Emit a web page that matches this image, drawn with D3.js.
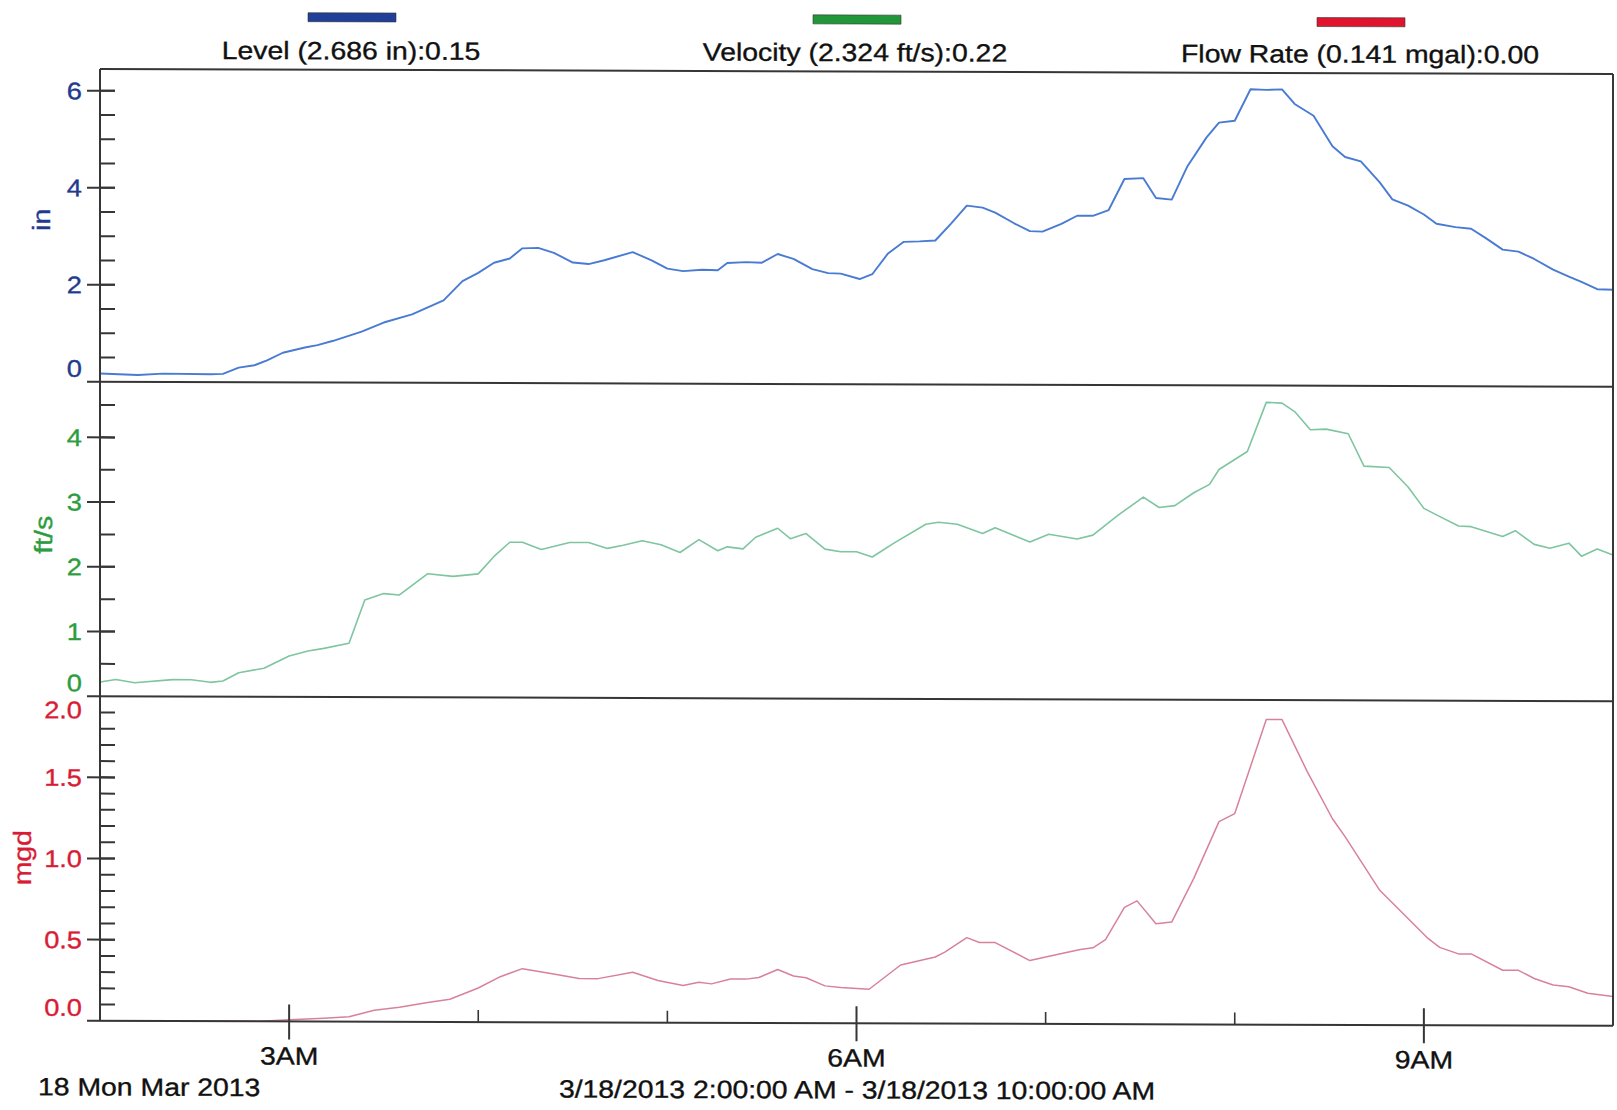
<!DOCTYPE html>
<html>
<head>
<meta charset="utf-8">
<script src="https://cdn.jsdelivr.net/npm/d3@7"></script>
<style>
  html, body { margin: 0; padding: 0; background: #ffffff; }
  svg { display: block; }
  text { font-family: "Liberation Sans", Arial, sans-serif; }
</style>
</head>
<body>
<svg id="chart" width="1617" height="1110"></svg>
<script>
// ---------------- DATA (hours after midnight, 3/18/2013) ----------------
const levelHours = [2.00,2.20,2.33,2.59,2.65,2.74,2.82,2.88,2.97,3.08,3.15,3.24,3.38,3.50,3.65,3.82,3.91,4.00,4.09,4.17,4.24,4.32,4.40,4.50,4.58,4.67,4.82,4.91,5.00,5.08,5.18,5.26,5.32,5.41,5.50,5.59,5.67,5.77,5.85,5.91,6.01,6.08,6.17,6.25,6.34,6.42,6.50,6.59,6.67,6.74,6.84,6.91,6.99,7.08,7.17,7.25,7.33,7.42,7.51,7.59,7.66,7.75,7.85,7.92,8.00,8.09,8.17,8.25,8.32,8.41,8.51,8.58,8.67,8.76,8.84,8.92,9.00,9.07,9.16,9.25,9.33,9.42,9.50,9.59,9.68,9.76,9.84,9.92,10.00];
const levelValues = [0.17,0.14,0.17,0.16,0.17,0.30,0.35,0.45,0.61,0.72,0.77,0.86,1.05,1.24,1.41,1.70,2.10,2.27,2.48,2.57,2.78,2.79,2.69,2.49,2.46,2.54,2.71,2.54,2.37,2.32,2.35,2.34,2.49,2.51,2.50,2.68,2.58,2.37,2.29,2.28,2.17,2.27,2.70,2.94,2.95,2.97,3.32,3.69,3.65,3.55,3.33,3.17,3.16,3.32,3.49,3.49,3.61,4.25,4.27,3.86,3.83,4.52,5.11,5.42,5.46,6.11,6.10,6.11,5.81,5.57,4.94,4.72,4.63,4.20,3.85,3.72,3.54,3.35,3.28,3.25,3.04,2.82,2.78,2.63,2.41,2.27,2.16,2.01,2.00];

const velocityHours = [2.00,2.08,2.18,2.38,2.49,2.59,2.65,2.74,2.86,3.00,3.10,3.19,3.31,3.40,3.50,3.59,3.73,3.87,4.00,4.08,4.17,4.23,4.33,4.49,4.59,4.68,4.77,4.87,4.97,5.06,5.17,5.26,5.31,5.40,5.47,5.58,5.65,5.74,5.83,5.92,6.00,6.08,6.20,6.36,6.43,6.54,6.67,6.74,6.82,6.91,7.02,7.16,7.25,7.38,7.51,7.60,7.68,7.78,7.86,7.92,8.06,8.17,8.25,8.31,8.40,8.48,8.60,8.69,8.81,8.91,9.00,9.07,9.18,9.25,9.42,9.49,9.59,9.67,9.76,9.84,9.92,10.00];
const velocityValues = [0.22,0.26,0.21,0.26,0.26,0.22,0.24,0.37,0.44,0.63,0.71,0.75,0.83,1.50,1.60,1.58,1.91,1.87,1.91,2.18,2.40,2.40,2.29,2.40,2.40,2.31,2.36,2.43,2.37,2.25,2.45,2.28,2.34,2.31,2.49,2.63,2.47,2.55,2.31,2.27,2.27,2.19,2.41,2.70,2.73,2.70,2.56,2.65,2.55,2.43,2.55,2.48,2.54,2.85,3.13,2.97,3.00,3.20,3.33,3.56,3.84,4.60,4.59,4.46,4.18,4.19,4.12,3.62,3.60,3.30,2.97,2.87,2.70,2.69,2.54,2.63,2.42,2.36,2.44,2.24,2.35,2.26];

const flowHours = [2.00,2.50,2.85,3.00,3.18,3.31,3.45,3.59,3.74,3.85,4.00,4.12,4.24,4.38,4.54,4.64,4.82,4.95,5.08,5.17,5.24,5.33,5.41,5.49,5.58,5.67,5.74,5.83,5.92,6.07,6.24,6.41,6.47,6.58,6.65,6.74,6.91,7.06,7.19,7.25,7.31,7.42,7.49,7.59,7.67,7.78,7.91,8.00,8.17,8.25,8.38,8.51,8.58,8.76,9.01,9.09,9.18,9.25,9.41,9.50,9.59,9.68,9.76,9.86,10.00];
const flowValues = [0.00,0.00,0.00,0.01,0.02,0.03,0.07,0.09,0.12,0.14,0.21,0.28,0.33,0.30,0.27,0.27,0.31,0.26,0.23,0.25,0.24,0.27,0.27,0.28,0.33,0.29,0.28,0.23,0.22,0.21,0.36,0.41,0.44,0.53,0.50,0.50,0.39,0.43,0.46,0.47,0.52,0.72,0.76,0.62,0.63,0.90,1.25,1.30,1.88,1.88,1.56,1.27,1.16,0.83,0.54,0.48,0.44,0.44,0.34,0.34,0.29,0.25,0.24,0.20,0.18];

const levelTicks = [0, 2, 4, 6];
const velocityTicks = [0, 1, 2, 3, 4];
const flowTicks = [0, 0.5, 1.0, 1.5, 2.0];
const timeTickHours = [3, 4, 5, 6, 7, 8, 9];
const timeLabels = {3: "3AM", 6: "6AM", 9: "9AM"};

const legendLabels = ["Level (2.686 in):0.15", "Velocity (2.324 ft/s):0.22", "Flow Rate (0.141 mgal):0.00"];
const axisTitles = ["in", "ft/s", "mgd"];
const dateLabel = "18 Mon Mar 2013";
const rangeLabel = "3/18/2013 2:00:00 AM - 3/18/2013 10:00:00 AM";

// ---------------- LAYOUT ----------------
const root = d3.select("#chart");
// the scanned page is slightly skewed (right side ~5px lower)
const SKEW = 0.19;
const svg = root.append("g")
  .attr("transform", `translate(0,${-100 * Math.tan(SKEW * Math.PI / 180)}) skewY(${SKEW})`);

const L = 100, R = 1613;
const TOP = 69, D1 = 381.7, D2 = 696.2, BOT = 1020.8;
const SX = 1.135;            // horizontal stretch of the lettering
const FS = 25, TFS = 24;
const EDGE = 13.5;           // inward shift of the labels that sit on a panel edge
const frameColor = "#363636";

const toDate = h => new Date(2013, 2, 18, 0, Math.round(h * 60));
const x = d3.scaleTime().domain([toDate(2), toDate(10)]).range([L, R]);

const panels = [
  { hours: levelHours, values: levelValues, ticks: levelTicks, top: TOP, bottom: D1, max: 6.45, minorStep: 0.5,
    fmt: d3.format("d"), line: "#4a7bd2", width: 1.9, label: "#1f3a8e", title: axisTitles[0], titleX: 50, titleY: 220,
    legendColor: "#203f98", legendCx: 351, swatch: [308, 12] },
  { hours: velocityHours, values: velocityValues, ticks: velocityTicks, top: D1, bottom: D2, max: 4.86, minorStep: 0.5,
    fmt: d3.format("d"), line: "#7ec5a0", width: 1.6, label: "#2c9c3e", title: axisTitles[1], titleX: 52, titleY: 535,
    legendColor: "#22973a", legendCx: 855, swatch: [813, 12.5] },
  { hours: flowHours, values: flowValues, ticks: flowTicks, top: D2, bottom: BOT, max: 2.0, minorStep: 0.1,
    fmt: d3.format(".1f"), line: "#d8829a", width: 1.5, label: "#d81c36", title: axisTitles[2], titleX: 31, titleY: 858,
    legendColor: "#e0142e", legendCx: 1360, swatch: [1317, 13.5] }
];

function stretchedText(g, x0, y0, s, opts) {
  const col = opts.color || "#111";
  const t = g.append("text")
    .attr("transform", opts.rot
      ? `translate(${x0},${y0}) rotate(-90) scale(${SX},1)`
      : `translate(${x0},${y0}) scale(${SX},1)`)
    .attr("text-anchor", opts.anchor || "start")
    .attr("font-size", opts.size || FS)
    .attr("fill", col)
    .attr("stroke", col)
    .attr("stroke-width", 0.35)
    .text(s);
  if (opts.dy) t.attr("dy", opts.dy);
  return t;
}

const gLines = svg.append("g");
const gAxes = svg.append("g");
const gText = svg.append("g");

panels.forEach((p, i) => {
  const y = d3.scaleLinear().domain([0, p.max]).range([p.bottom, p.top]);

  // data line
  const pts = p.hours.map((h, k) => ({ t: toDate(h), v: p.values[k] }));
  gLines.append("path")
    .datum(pts)
    .attr("fill", "none")
    .attr("stroke", p.line)
    .attr("stroke-width", p.width)
    .attr("stroke-linejoin", "round")
    .attr("d", d3.line().x(d => x(d.t)).y(d => y(d.v)));

  // minor ticks (inside)
  const minor = d3.range(0, p.max + 1e-9, p.minorStep).filter(v => v > 0.001 && v < p.max - 0.02);
  gAxes.selectAll(null).data(minor).join("line")
    .attr("x1", L).attr("x2", L + 15)
    .attr("y1", d => y(d)).attr("y2", d => y(d))
    .attr("stroke", frameColor).attr("stroke-width", 2);
  // major ticks (cross the axis)
  gAxes.selectAll(null).data(p.ticks.filter(v => v > 0 && v < p.max - 0.02)).join("line")
    .attr("x1", L - 13).attr("x2", L + 15)
    .attr("y1", d => y(d)).attr("y2", d => y(d))
    .attr("stroke", frameColor).attr("stroke-width", 2);

  // tick labels
  p.ticks.forEach(v => {
    let yy = y(v);
    if (v === 0) yy -= EDGE;
    else if (v >= p.max - 0.02) yy += EDGE;
    stretchedText(gText, 82, yy, p.fmt(v), { anchor: "end", color: p.label, size: TFS, dy: "0.36em" });
  });

  // axis title (rotated)
  stretchedText(gText, p.titleX, p.titleY, p.title, { anchor: "middle", color: p.label, size: 25, rot: true });

  // legend
  svg.append("rect")
    .attr("x", p.swatch[0]).attr("y", p.swatch[1])
    .attr("width", 88).attr("height", 9)
    .attr("fill", p.legendColor).attr("stroke", "#333").attr("stroke-width", 0.6);
  stretchedText(gText, p.legendCx, 58.5, legendLabels[i], { anchor: "middle", color: "#111", size: FS });
});

// ---------------- FRAME ----------------
const frame = gAxes.append("g").attr("stroke", frameColor).attr("stroke-width", 2).attr("fill", "none");
frame.append("line").attr("x1", L).attr("x2", R).attr("y1", TOP).attr("y2", TOP);
[D1, D2, BOT].forEach(yy => {
  frame.append("line").attr("x1", L - 13).attr("x2", R).attr("y1", yy).attr("y2", yy);
});
frame.append("line").attr("x1", L).attr("x2", L).attr("y1", TOP).attr("y2", BOT);
frame.append("line").attr("x1", R).attr("x2", R).attr("y1", TOP).attr("y2", BOT);

// ---------------- TIME AXIS ----------------
timeTickHours.forEach(h => {
  const xx = x(toDate(h));
  const major = timeLabels[h] !== undefined;
  gAxes.append("line")
    .attr("x1", xx).attr("x2", xx)
    .attr("y1", major ? BOT - 17 : BOT - 12)
    .attr("y2", major ? BOT + 18 : BOT)
    .attr("stroke", frameColor).attr("stroke-width", major ? 2 : 1.6);
  if (major) {
    stretchedText(gText, xx, 1064, timeLabels[h], { anchor: "middle", color: "#111", size: FS });
  }
});
stretchedText(gText, 38, 1095.5, dateLabel, { anchor: "start", color: "#111", size: FS });
stretchedText(gText, 857, 1096, rangeLabel, { anchor: "middle", color: "#111", size: FS });
</script>
</body>
</html>
